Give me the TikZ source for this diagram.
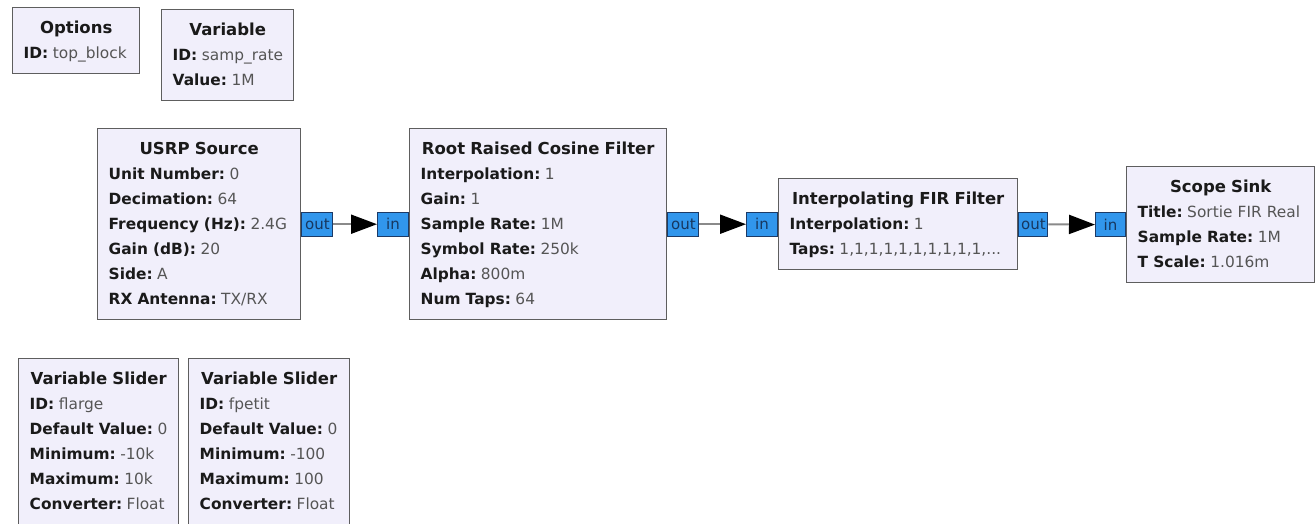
\documentclass[tikz,border=0pt]{standalone}
\usepackage{fontspec}
\setmainfont{DejaVu Sans}
\usetikzlibrary{arrows.meta}
\definecolor{blkfill}{HTML}{F1EFFB}
\definecolor{blkdraw}{HTML}{5E5E5E}
\definecolor{labcol}{HTML}{1A1A1A}
\definecolor{valcol}{HTML}{555555}
\definecolor{portfill}{HTML}{3196EC}
\definecolor{portdraw}{HTML}{1C3A66}
\definecolor{porttext}{HTML}{17375F}
\definecolor{wirecol}{HTML}{8A8A8A}
\newcommand{\kvline}[2]{\mbox{\strut\textbf{\color{labcol}#1:}\hspace{4.5pt}\color{valcol}#2}\par}
\newcommand{\ttl}[1]{{\centering\strut{\fontsize{16.5}{25}\selectfont\textbf{\color{labcol}#1}}\par}}
\tikzset{
  blk/.style={draw=blkdraw, line width=1.4pt, fill=blkfill, anchor=north west,
    align=left, inner xsep=11pt, inner ysep=8pt,
    font=\fontsize{15.4}{25}\selectfont},
  port/.style={draw=portdraw, line width=1pt, fill=portfill, inner sep=0pt,
    minimum width=31pt, minimum height=24pt, text=porttext,
    font=\fontsize{15}{16}\selectfont},
  wire/.style={draw=wirecol, line width=2pt,
    -{Triangle[length=26pt,width=19pt,color=black]}}
}
\begin{document}
\begin{tikzpicture}[x=1pt,y=-1pt]
\useasboundingbox (0,0) rectangle (1315,523);
\fill[white] (0,0) rectangle (1315,523);

\node[blk, text width=105pt] (opt) at (12,7) {\ttl{Options}\kvline{ID}{top\_block}};
\node[blk, text width=110pt] (var) at (161,9) {\ttl{Variable}\kvline{ID}{samp\_rate}\kvline{Value}{1M}};

\node[blk, text width=181pt] (usrp) at (97,128) {\ttl{USRP Source}%
\kvline{Unit Number}{0}\kvline{Decimation}{64}\kvline{Frequency (Hz)}{2.4G}%
\kvline{Gain (dB)}{20}\kvline{Side}{A}\kvline{RX Antenna}{TX/RX}};

\node[blk, text width=235pt] (rrc) at (409,128) {\ttl{Root Raised Cosine Filter}%
\kvline{Interpolation}{1}\kvline{Gain}{1}\kvline{Sample Rate}{1M}%
\kvline{Symbol Rate}{250k}\kvline{Alpha}{800m}\kvline{Num Taps}{64}};

\node[blk, text width=217pt] (fir) at (778,178) {\ttl{Interpolating FIR Filter}%
\kvline{Interpolation}{1}\kvline{Taps}{1,1,1,1,1,1,1,1,1,1,...}};

\node[blk, text width=166pt] (scope) at (1126,166) {\ttl{Scope Sink}%
\kvline{Title}{Sortie FIR Real}\kvline{Sample Rate}{1M}\kvline{T Scale}{1.016m}};

\node[blk, text width=138pt] (sl1) at (18,358) {\ttl{Variable Slider}%
\kvline{ID}{flarge}\kvline{Default Value}{0}\kvline{Minimum}{-10k}%
\kvline{Maximum}{10k}\kvline{Converter}{Float}};

\node[blk, text width=139pt] (sl2) at (188,358) {\ttl{Variable Slider}%
\kvline{ID}{fpetit}\kvline{Default Value}{0}\kvline{Minimum}{-100}%
\kvline{Maximum}{100}\kvline{Converter}{Float}};

\node[port, anchor=west] (usrpout) at (usrp.east) {out};
\node[port, anchor=east] (rrcin) at (rrc.west) {in};
\node[port, anchor=west] (rrcout) at (rrc.east) {out};
\node[port, anchor=east] (firin) at (fir.west) {in};
\node[port, anchor=west, minimum width=29pt] (firout) at (fir.east) {out};
\node[port, anchor=east, minimum width=30pt] (scopein) at (scope.west) {in};

\draw[wire] (usrpout) -- (rrcin);
\draw[wire] (rrcout) -- (firin);
\draw[wire] (firout) -- (scopein);
\end{tikzpicture}
\end{document}
